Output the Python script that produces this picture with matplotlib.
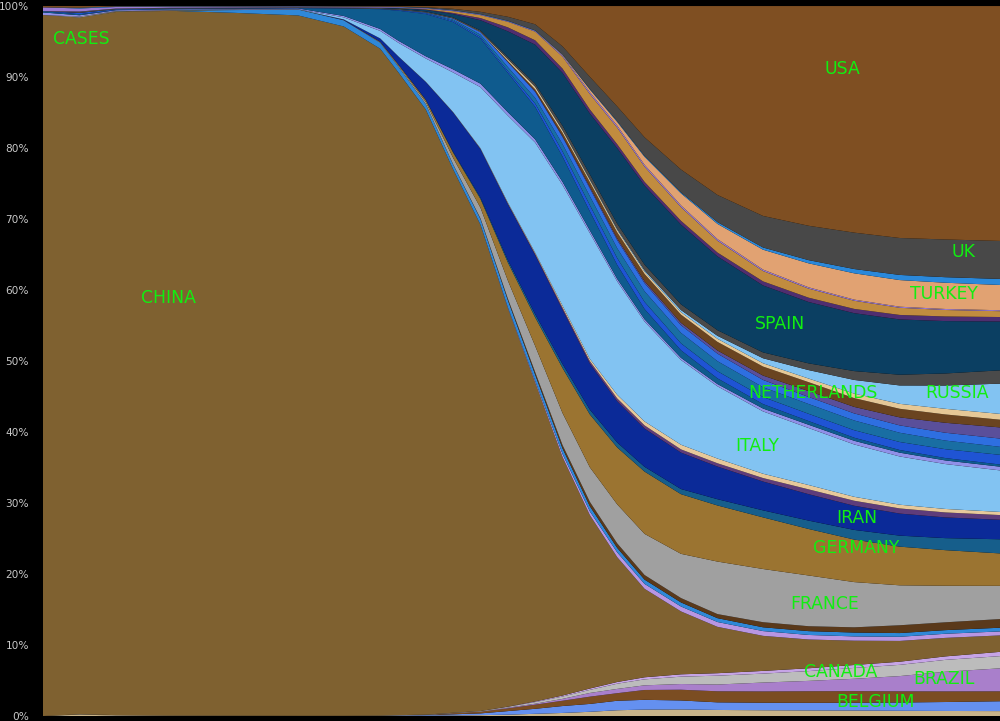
import matplotlib
matplotlib.use("Agg")
import matplotlib.pyplot as plt
import numpy as np

# day index (0 = first day of the record)
days = [0, 4, 8, 14, 21, 28, 33, 37, 39, 42, 45, 48, 51, 54, 57, 60, 63, 66, 70, 74, 79, 84, 89, 94, 99, 105]

# shares of cumulative cases, percent, stacked bottom -> top
OTHER_A = [0, 0.19, 0.09, 0.05, 0.033, 0.02, 0.02, 0.035, 0.04, 0.05, 0.08, 0.12, 0.19, 0.31, 0.43, 0.59, 0.81, 0.9, 0.92, 0.85, 0.81, 0.79, 0.77, 0.73, 0.71, 0.69]
AUSTRIA = [0, 0, 0, 0, 0, 0, 0, 0.01, 0.05, 0.09, 0.16, 0.25, 0.5, 0.7, 0.97, 1.1, 1.33, 1.37, 1.26, 1.07, 1.05, 1.07, 1.09, 1.16, 1.26, 1.38]
BELGIUM = [0, 0, 0.01, 0.004, 0.002, 0.001, 0.001, 0.001, 0.002, 0.014, 0.16, 0.23, 0.38, 0.58, 0.74, 1.01, 1.06, 1.38, 1.5, 1.55, 1.58, 1.63, 1.62, 1.56, 1.49, 1.39]
BRAZIL = [0, 0, 0, 0, 0, 0, 0, 0.001, 0.002, 0.004, 0.01, 0.02, 0.1, 0.13, 0.26, 0.52, 0.6, 0.65, 0.8, 0.95, 1.24, 1.46, 1.73, 2.13, 2.76, 3.22]
CANADA = [0, 0.05, 0.03, 0.018, 0.016, 0.01, 0.013, 0.017, 0.03, 0.035, 0.05, 0.07, 0.11, 0.23, 0.33, 0.43, 0.73, 0.84, 1.03, 1.24, 1.25, 1.38, 1.52, 1.57, 1.67, 1.71]
CHILE = [0, 0, 0, 0, 0, 0, 0, 0, 0, 0, 0, 0.01, 0.03, 0.09, 0.14, 0.19, 0.24, 0.29, 0.33, 0.35, 0.38, 0.4, 0.41, 0.44, 0.49, 0.6]
CHINA = [98.7, 97.8, 98.5, 99.1, 99.0, 98.2, 97.1, 93.7, 90.5, 84.5, 76.3, 68.1, 55.75, 44.6, 33.4, 24.2, 17.5, 12.4, 8.8, 6.5, 4.9, 4.05, 3.4, 2.9, 2.6, 2.3]
COL_CZE = [0, 0, 0, 0, 0, 0, 0, 0, 0, 0.003, 0.01, 0.03, 0.1, 0.22, 0.43, 0.52, 0.67, 0.69, 0.69, 0.68, 0.67, 0.64, 0.6, 0.58, 0.58, 0.56]
DEN_DOM = [0, 0, 0, 0, 0.39, 0.82, 0.87, 0.84, 0.8, 0.75, 0.68, 0.81, 1.03, 0.88, 0.78, 0.72, 0.63, 0.6, 0.57, 0.54, 0.53, 0.54, 0.54, 0.52, 0.51, 0.52]
ECU_FIN = [0, 0, 0.01, 0.004, 0.002, 0.001, 0.001, 0.003, 0.01, 0.01, 0.02, 0.07, 0.2, 0.35, 0.46, 0.61, 0.63, 0.64, 0.61, 0.57, 0.71, 0.69, 0.73, 1.09, 1.1, 1.21]
FRANCE = [0, 0.14, 0.05, 0.02, 0.024, 0.016, 0.015, 0.07, 0.15, 0.3, 0.9, 1.5, 2.53, 3.66, 4.49, 4.82, 5.47, 5.77, 6.19, 7.37, 7.44, 7.15, 6.33, 5.58, 5.14, 4.66]
GERMANY = [0, 0, 0.04, 0.04, 0.035, 0.02, 0.02, 0.06, 0.15, 0.28, 0.75, 1.23, 2.53, 4.0, 6.31, 7.38, 7.98, 8.73, 8.35, 7.87, 7.22, 6.55, 5.95, 5.4, 5.0, 4.54]
INDIA = [0, 0, 0.01, 0.01, 0.007, 0.004, 0.004, 0.005, 0.01, 0.04, 0.12, 0.2, 0.33, 0.45, 0.56, 0.67, 0.69, 0.67, 0.72, 0.88, 0.98, 1.18, 1.35, 1.54, 1.69, 1.98]
IRAN = [0, 0, 0, 0, 0, 0, 0.08, 0.46, 1.11, 2.46, 5.5, 6.78, 7.83, 8.26, 7.58, 6.42, 5.78, 5.36, 5.1, 4.58, 4.03, 3.72, 3.38, 3.08, 2.91, 2.73]
IRQ_IRL = [0, 0, 0, 0, 0, 0, 0.001, 0.005, 0.02, 0.03, 0.05, 0.07, 0.11, 0.19, 0.31, 0.34, 0.4, 0.44, 0.45, 0.46, 0.49, 0.68, 0.7, 0.72, 0.7, 0.66]
ISRAEL = [0, 0, 0, 0, 0, 0, 0.001, 0.004, 0.005, 0.016, 0.02, 0.05, 0.1, 0.14, 0.28, 0.32, 0.51, 0.55, 0.65, 0.66, 0.6, 0.61, 0.55, 0.52, 0.49, 0.44]
ITALY = [0, 0, 0.02, 0.01, 0.007, 0.004, 0.29, 1.06, 1.92, 3.25, 5.56, 8.56, 12.16, 15.4, 16.9, 17.55, 15.9, 14.0, 11.86, 10.14, 8.72, 8.03, 7.33, 6.74, 6.31, 5.82]
JAPAN = [0.36, 0.19, 0.11, 0.12, 0.06, 0.11, 0.2, 0.27, 0.29, 0.31, 0.44, 0.49, 0.48, 0.45, 0.44, 0.39, 0.35, 0.33, 0.3, 0.31, 0.4, 0.46, 0.51, 0.53, 0.51, 0.52]
KOREA = [0.18, 0.14, 0.04, 0.07, 0.06, 0.04, 1.05, 2.78, 4.23, 5.9, 6.65, 6.34, 5.5, 4.54, 3.53, 2.64, 1.95, 1.43, 1.06, 0.8, 0.62, 0.52, 0.43, 0.37, 0.33, 0.3]
MAL_MEX = [0, 0.19, 0.08, 0.04, 0.04, 0.03, 0.03, 0.03, 0.08, 0.11, 0.15, 0.2, 0.25, 0.47, 0.73, 0.87, 0.96, 1.0, 0.97, 1.0, 0.99, 1.02, 1.05, 1.12, 1.25, 1.36]
NETHERLANDS = [0, 0, 0, 0, 0, 0, 0, 0.001, 0.01, 0.04, 0.18, 0.32, 0.55, 0.78, 1.02, 1.25, 1.38, 1.49, 1.47, 1.41, 1.37, 1.38, 1.36, 1.29, 1.21, 1.12]
NOR_PAN = [0, 0, 0, 0, 0, 0, 0.001, 0.005, 0.03, 0.06, 0.14, 0.34, 0.7, 0.85, 1.01, 1.09, 1.14, 1.14, 1.07, 1.06, 1.02, 1.0, 0.99, 1.03, 1.1, 1.16]
PERU = [0, 0, 0, 0, 0, 0, 0, 0, 0, 0.003, 0.005, 0.02, 0.05, 0.1, 0.12, 0.22, 0.24, 0.26, 0.33, 0.44, 0.61, 0.83, 0.91, 1.12, 1.4, 1.56]
POL_POR = [0, 0, 0, 0, 0, 0, 0, 0, 0, 0, 0.001, 0.01, 0.1, 0.26, 0.47, 0.66, 0.86, 1.03, 1.15, 1.21, 1.26, 1.25, 1.23, 1.2, 1.17, 1.08]
QAT_ROM = [0, 0, 0, 0, 0, 0, 0, 0, 0.003, 0.01, 0.02, 0.04, 0.23, 0.33, 0.3, 0.28, 0.3, 0.31, 0.34, 0.43, 0.46, 0.51, 0.63, 0.69, 0.79, 0.81]
RUSSIA = [0, 0, 0.02, 0.007, 0.004, 0.003, 0.003, 0.002, 0.002, 0.003, 0.004, 0.008, 0.03, 0.05, 0.08, 0.11, 0.14, 0.19, 0.3, 0.42, 0.7, 1.19, 1.91, 2.57, 3.27, 4.24]
SAU_SIN = [0, 0.19, 0.1, 0.1, 0.11, 0.11, 0.11, 0.12, 0.13, 0.13, 0.15, 0.18, 0.29, 0.38, 0.6, 0.69, 0.77, 0.8, 0.8, 0.79, 0.82, 0.95, 1.24, 1.5, 1.7, 1.86]
SPAIN = [0, 0, 0, 0.004, 0.004, 0.003, 0.003, 0.04, 0.1, 0.23, 0.47, 1.43, 3.6, 5.48, 7.4, 8.49, 10.59, 11.08, 11.16, 10.35, 9.36, 8.64, 8.1, 7.72, 7.36, 6.84]
SWEDEN = [0, 0, 0, 0.004, 0.002, 0.001, 0.001, 0.01, 0.016, 0.055, 0.15, 0.3, 0.56, 0.61, 0.59, 0.57, 0.54, 0.52, 0.53, 0.54, 0.57, 0.61, 0.6, 0.63, 0.65, 0.63]
SWITZERLAND = [0, 0, 0, 0, 0, 0, 0, 0.01, 0.03, 0.09, 0.25, 0.41, 0.78, 1.21, 1.68, 2.15, 2.33, 2.13, 1.91, 1.66, 1.45, 1.28, 1.14, 1.0, 0.91, 0.82]
THAILAND = [0.54, 0.43, 0.22, 0.13, 0.11, 0.08, 0.08, 0.09, 0.095, 0.09, 0.09, 0.085, 0.085, 0.11, 0.18, 0.26, 0.28, 0.26, 0.25, 0.23, 0.2, 0.18, 0.16, 0.15, 0.14, 0.13]
TURKEY = [0, 0, 0, 0, 0, 0, 0, 0, 0, 0, 0, 0, 0.003, 0.01, 0.08, 0.37, 0.52, 1.12, 1.68, 2.13, 2.78, 3.38, 3.68, 3.72, 3.69, 3.54]
UKRAINE = [0, 0.1, 0.06, 0.06, 0.05, 0.04, 0.04, 0.04, 0.04, 0.04, 0.05, 0.06, 0.06, 0.06, 0.06, 0.08, 0.11, 0.12, 0.14, 0.25, 0.31, 0.45, 0.6, 0.72, 0.78, 0.85]
UK = [0, 0, 0.02, 0.01, 0.02, 0.012, 0.016, 0.024, 0.04, 0.09, 0.19, 0.32, 0.55, 0.85, 1.12, 1.7, 2.06, 2.62, 3.2, 3.81, 4.41, 4.84, 5.09, 5.16, 5.3, 5.32]
USA = [0.18, 0.24, 0.05, 0.04, 0.03, 0.02, 0.06, 0.07, 0.08, 0.16, 0.39, 0.81, 1.5, 2.55, 5.64, 9.87, 14.07, 18.39, 22.88, 26.5, 29.35, 30.95, 31.7, 32.4, 32.8, 32.9]

series = [
    (OTHER_A, "#c9b48a"), (AUSTRIA, "#6490f0"), (BELGIUM, "#7b4d22"),
    (BRAZIL, "#a97fcb"), (CANADA, "#bcbcbc"), (CHILE, "#c6a4e6"),
    (CHINA, "#7f6130"), (COL_CZE, "#b896e2"), (DEN_DOM, "#2f88d8"),
    (ECU_FIN, "#5a391a"), (FRANCE, "#a0a0a0"), (GERMANY, "#9b7431"),
    (INDIA, "#165e8b"), (IRAN, "#0b2a98"), (IRQ_IRL, "#5e3c7a"),
    (ISRAEL, "#e7c99b"), (ITALY, "#82c3f2"), (JAPAN, "#9090e8"),
    (KOREA, "#0f5b8e"), (MAL_MEX, "#1f54d4"), (NETHERLANDS, "#196ea3"),
    (NOR_PAN, "#2e6fe0"), (PERU, "#5a4f9a"), (POL_POR, "#6a4420"),
    (QAT_ROM, "#e6c896"), (RUSSIA, "#82c3f2"), (SAU_SIN, "#4a4a4a"),
    (SPAIN, "#0b3f62"), (SWEDEN, "#4f2e6f"), (SWITZERLAND, "#c18c3f"),
    (THAILAND, "#9a7ad6"), (TURKEY, "#e1a272"), (UKRAINE, "#2a88da"),
    (UK, "#484848"), (USA, "#7f4f22"),
]

labels = [
    ("CASES", 0.0397, 0.9536), ("USA", 0.8349, 0.9114), ("UK", 0.9613, 0.6540),
    ("TURKEY", 0.9415, 0.5949), ("SPAIN", 0.7701, 0.5527),
    ("NETHERLANDS", 0.8046, 0.4543), ("RUSSIA", 0.9551, 0.4543),
    ("ITALY", 0.7461, 0.3797), ("IRAN", 0.8506, 0.2785),
    ("GERMANY", 0.8495, 0.2363), ("FRANCE", 0.8171, 0.1575),
    ("CHINA", 0.1306, 0.5893), ("CANADA", 0.8339, 0.0619),
    ("BRAZIL", 0.9415, 0.0520), ("BELGIUM", 0.8694, 0.0197),
]

vals = np.array([s for s, _ in series], dtype=float)
shares = vals / vals.sum(axis=0) * 100.0
colors = [c for _, c in series]

fig = plt.figure(figsize=(10, 7.21), dpi=100, facecolor="black")
ax = fig.add_axes([0.043, 0.0069, 0.957, 0.9847])
ax.set_facecolor("black")
ax.stackplot(days, shares, colors=colors, linewidth=0.6)
ax.set_xlim(days[0], days[-1])
ax.set_ylim(0, 100)
ax.set_xticks([])
ax.set_yticks(np.arange(0, 101, 10))
ax.set_yticklabels([f"{v}%" for v in range(0, 101, 10)])
ax.tick_params(axis="y", length=0, pad=10, labelsize=7.6, labelcolor="#c8c8c8")
for sp in ax.spines.values():
    sp.set_visible(False)

for txt, fx, fy in labels:
    ax.text(fx, fy, txt, transform=ax.transAxes, color="#11ee11",
            fontsize=12.4, ha="center", va="center")

fig.savefig("out.png", dpi=100, facecolor="black")
